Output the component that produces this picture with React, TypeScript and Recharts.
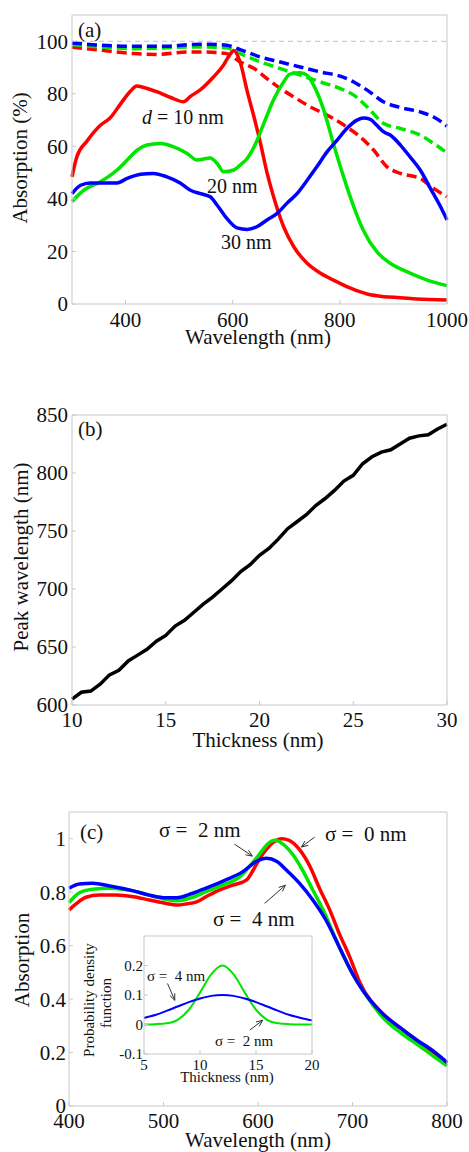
import { LineChart, Line, XAxis, YAxis, ReferenceLine } from 'recharts';

const SERIF = '"Liberation Serif", "Times New Roman", serif';
const RED = '#ff0000';
const GREEN = '#00e600';
const BLUE = '#0000ff';
const FRAME = '#c8c8c8';
const INK = '#111';

// (a) absorption spectra, [wavelength nm, absorption %]
const aRedSolid: [number, number][] = [
  [300, 48.4], [309, 56], [328, 62], [353, 68], [372, 71], [390, 76], [409, 81], [421, 83],
  [434, 82.4], [459, 80.7], [484, 78.6], [508, 77], [521, 79], [540, 81.6], [564, 86.4],
  [583, 91], [596, 95.3], [602, 96.5], [614, 92], [627, 81], [640, 71], [652, 61], [664, 50],
  [676, 41], [695, 29.4], [714, 21.8], [739, 15.5], [764, 11.7], [788, 9.1], [820, 6],
  [851, 3.8], [882, 2.8], [913, 2.4], [944, 1.9], [1000, 1.5],
];
const aGreenSolid: [number, number][] = [
  [300, 39], [322, 43.3], [353, 46.5], [384, 51], [403, 54.8], [421, 58.5], [440, 60.5],
  [465, 61.1], [490, 59.8], [515, 57.3], [533, 54.8], [558, 55.6], [571, 53.5], [583, 50.3],
  [602, 51], [614, 52.9], [627, 55.4], [640, 59.8], [658, 68.7], [676, 77.6], [695, 84.5],
  [707, 87.5], [726, 88], [739, 87], [751, 83.3], [770, 73.8], [788, 61], [807, 48.4],
  [826, 37], [844, 28], [869, 19.9], [894, 15.5], [925, 12.3], [963, 9.1], [1000, 7],
];
const aBlueSolid: [number, number][] = [
  [300, 42], [316, 45.2], [334, 46.1], [353, 46.1], [384, 46.1], [403, 47.8], [428, 49.4],
  [452, 49.7], [477, 48.4], [502, 46.1], [521, 43.3], [540, 42], [558, 40.8], [571, 37.6],
  [589, 32.6], [608, 29], [627, 28.4], [645, 29.4], [664, 32], [683, 34.5], [701, 38.3],
  [720, 42], [739, 47.1], [757, 52.2], [776, 57.9], [795, 62.4], [813, 66.8], [832, 70],
  [844, 70.8], [857, 70.3], [869, 68], [882, 65.5], [894, 64.3], [913, 60.5], [931, 56],
  [950, 51], [969, 44], [988, 37], [1000, 32],
];
const aBlueDash: [number, number][] = [
  [300, 99.4], [353, 98.5], [415, 98.1], [477, 98.1], [515, 98.7], [552, 98.9], [589, 98.5],
  [614, 96.8], [652, 94], [689, 92.1], [726, 90.2], [764, 88.3], [801, 86.7], [826, 84.5],
  [851, 81.4], [882, 76.9], [913, 74.8], [950, 73.1], [975, 71.2], [1000, 67.7],
];
const aGreenDash: [number, number][] = [
  [300, 98.7], [353, 97.8], [415, 97.2], [477, 97.5], [515, 97.8], [552, 97.8], [589, 97.5],
  [614, 95.3], [652, 92.1], [689, 89.6], [726, 87.1], [764, 84.5], [801, 82], [826, 79.5],
  [851, 75], [882, 68.7], [913, 66.8], [950, 64.3], [975, 61.1], [1000, 57.5],
];
const aRedDash: [number, number][] = [
  [300, 97.8], [353, 96.6], [415, 95.3], [459, 95], [515, 95.9], [552, 95.9], [589, 95.3],
  [614, 92.1], [640, 89.6], [664, 85.8], [689, 82], [714, 78.8], [739, 75.7], [764, 73.1],
  [788, 70.6], [813, 67.4], [838, 63.6], [863, 58.6], [888, 52.2], [913, 49.7], [950, 47.8],
  [975, 44], [1000, 40.8],
];
const aXTicks = [400, 600, 800, 1000];
const aYTicks = [0, 20, 40, 60, 80, 100];

// (b) peak wavelength vs thickness
const bThickness = [
  10, 10.5, 11, 11.5, 12, 12.5, 13, 13.5, 14, 14.5, 15, 15.5, 16, 16.5, 17, 17.5, 18, 18.5, 19, 19.5,
  20, 20.5, 21, 21.5, 22, 22.5, 23, 23.5, 24, 24.5, 25, 25.5, 26, 26.5, 27, 27.5, 28, 28.5, 29, 29.5, 30,
];
const bPeak = [
  605, 611, 612, 618, 626, 630, 638, 643, 648, 655, 660, 668, 673, 680, 687, 693, 700, 707, 715, 721,
  729, 735, 743, 752, 758, 764, 772, 778, 785, 793, 798, 808, 814, 818, 820, 825, 830, 832, 833, 838, 842,
];
const bXTicks = [10, 15, 20, 25, 30];
const bYTicks = [600, 650, 700, 750, 800, 850];

// (c) averaged absorption, [wavelength nm, absorption]
const cSigma0: [number, number][] = [
  [400, 0.733], [408, 0.758], [418, 0.781], [432, 0.789], [450, 0.789], [468, 0.783], [485, 0.771],
  [503, 0.758], [514, 0.752], [524, 0.756], [535, 0.764], [545, 0.783], [559, 0.808], [574, 0.827],
  [588, 0.846], [595, 0.883], [602, 0.927], [609, 0.961], [616, 0.986], [625, 1.0], [633, 0.994],
  [644, 0.959], [655, 0.896], [665, 0.815], [676, 0.733], [686, 0.645], [697, 0.558], [708, 0.46],
  [732, 0.345], [750, 0.294], [768, 0.244], [785, 0.2], [800, 0.159],
];
const cSigma2: [number, number][] = [
  [400, 0.761], [411, 0.798], [425, 0.811], [443, 0.815], [468, 0.805], [485, 0.789], [503, 0.773],
  [514, 0.768], [531, 0.781], [545, 0.802], [563, 0.827], [581, 0.858], [591, 0.896], [602, 0.944],
  [609, 0.976], [618, 0.994], [626, 0.981], [637, 0.94], [648, 0.877], [658, 0.808], [669, 0.733],
  [679, 0.652], [690, 0.564], [700, 0.495], [711, 0.432], [732, 0.332], [750, 0.276], [768, 0.232],
  [785, 0.188], [800, 0.15],
];
const cSigma4: [number, number][] = [
  [400, 0.815], [411, 0.831], [425, 0.833], [443, 0.823], [468, 0.805], [485, 0.789], [503, 0.779],
  [514, 0.779], [531, 0.796], [545, 0.815], [566, 0.846], [584, 0.877], [598, 0.915], [609, 0.927],
  [620, 0.915], [630, 0.883], [644, 0.833], [658, 0.771], [672, 0.695], [686, 0.595], [700, 0.495],
  [711, 0.432], [732, 0.345], [750, 0.294], [768, 0.247], [785, 0.207], [800, 0.163],
];
const cXTicks = [400, 500, 600, 700, 800];
const cYTicks = [0, 0.2, 0.4, 0.6, 0.8, 1];

// inset: thickness distributions
const insetThickness = [5, 6, 7, 8, 9, 10, 11, 12, 13, 14, 15, 16, 17, 18, 19, 20];
const pdfSigma2 = [0, 0.001, 0.004, 0.016, 0.05, 0.108, 0.17, 0.2, 0.17, 0.108, 0.05, 0.016, 0.004, 0.001, 0, 0];
const pdfSigma4 = [0.022, 0.032, 0.046, 0.061, 0.076, 0.088, 0.097, 0.1, 0.097, 0.088, 0.076, 0.061, 0.046, 0.032, 0.022, 0.014];
const insetXTicks = [5, 10, 15, 20];
const insetYTicks = [-0.1, 0, 0.1, 0.2];

// annotation arrows, data coordinates [from, to]
const cArrows = [
  [[575, 0.98], [594, 0.935]],
  [[660, 1.006], [646, 0.969]],
  [[607, 0.758], [629, 0.826]],
];
const insetArrows = [
  [[7.1, 0.139], [7.75, 0.082]],
  [[14.45, -0.019], [15.6, 0.0145]],
];

const pairs = (arr: [number, number][]) => arr.map(([x, y]) => ({ x, y }));
const zipXY = (xs: number[], ys: number[]) => xs.map((x, i) => ({ x, y: ys[i] }));

const arrowShape = (props: any) => {
  const { x1, y1, x2, y2 } = props;
  const a = Math.atan2(y2 - y1, x2 - x1);
  const h = 7;
  const l1 = [x2 - h * Math.cos(a - 0.4), y2 - h * Math.sin(a - 0.4)];
  const l2 = [x2 - h * Math.cos(a + 0.4), y2 - h * Math.sin(a + 0.4)];
  return (
    <g stroke="#333" strokeWidth={1} fill="none">
      <line x1={x1} y1={y1} x2={x2} y2={y2} />
      <path d={`M${l1[0]},${l1[1]}L${x2},${y2}L${l2[0]},${l2[1]}`} />
    </g>
  );
};

// axes are 1px thick so they still render; margins are reduced by 1 to compensate
function frameAxes(
  xDomain: number[],
  xTicks: number[],
  yDomain: number[],
  yTicks: number[],
  fontSize: number,
  xMargin: number,
  yMargin: number,
) {
  const tick = { fill: INK, fontSize, fontFamily: SERIF };
  return [
    <XAxis key="xb" xAxisId="b" type="number" dataKey="x" domain={xDomain} ticks={xTicks} interval={0}
      height={1} stroke={FRAME} tickSize={-4} tickMargin={xMargin} tick={tick} />,
    <XAxis key="xt" xAxisId="t" orientation="top" type="number" domain={xDomain} ticks={xTicks} interval={0}
      height={1} stroke={FRAME} tickSize={-4} tick={false} />,
    <YAxis key="yl" yAxisId="l" type="number" dataKey="y" domain={yDomain} ticks={yTicks} interval={0}
      width={1} stroke={FRAME} tickSize={-4} tickMargin={yMargin} tick={tick} />,
    <YAxis key="yr" yAxisId="r" orientation="right" type="number" domain={yDomain} ticks={yTicks} interval={0}
      width={1} stroke={FRAME} tickSize={-4} tick={false} />,
  ];
}

const series = (data: any[], color: string, width: number, dashed = false, type: any = 'monotone') => (
  <Line
    xAxisId="b"
    yAxisId="l"
    data={data}
    dataKey="y"
    type={type}
    stroke={color}
    strokeWidth={width}
    strokeDasharray={dashed ? '10 5' : undefined}
    dot={false}
    activeDot={false}
    isAnimationActive={false}
  />
);

function Txt({ x, y, size, rot, anchor = 'middle', children }: any) {
  return (
    <text
      x={x}
      y={y}
      fontSize={size}
      fontFamily={SERIF}
      fill={INK}
      textAnchor={anchor}
      style={{ whiteSpace: 'pre' }}
      transform={rot ? `rotate(-90 ${x} ${y})` : undefined}
    >
      {children}
    </text>
  );
}

export default function App() {
  return (
    <div style={{ position: 'absolute', left: 0, top: 0, width: 469, height: 1152, background: '#fff', overflow: 'hidden' }}>
      <div style={{ position: 'absolute', left: 0, top: 0 }}>
        <LineChart width={469} height={340} margin={{ top: 14, right: 21, bottom: 35, left: 71 }}>
          {frameAxes([300, 1000], aXTicks, [0, 110], aYTicks, 21, 12, 8)}
          <ReferenceLine xAxisId="b" yAxisId="l" y={100} stroke="#c0c0c0" strokeDasharray="5 4" />
          {series(pairs(aRedDash), RED, 3.5, true)}
          {series(pairs(aGreenDash), GREEN, 3.5, true)}
          {series(pairs(aBlueDash), BLUE, 3.5, true)}
          {series(pairs(aRedSolid), RED, 3.5)}
          {series(pairs(aGreenSolid), GREEN, 3.5)}
          {series(pairs(aBlueSolid), BLUE, 3.5)}
        </LineChart>
      </div>

      <div style={{ position: 'absolute', left: 0, top: 380 }}>
        <LineChart width={469} height={360} margin={{ top: 34, right: 21, bottom: 34, left: 71 }}>
          {frameAxes([10, 30], bXTicks, [600, 850], bYTicks, 21, 11, 8)}
          {series(zipXY(bThickness, bPeak), '#000', 3.5, false, 'linear')}
        </LineChart>
      </div>

      <div style={{ position: 'absolute', left: 0, top: 780 }}>
        <LineChart width={469} height={372} margin={{ top: 31, right: 21, bottom: 45, left: 68 }}>
          {frameAxes([400, 800], cXTicks, [0, 1.1], cYTicks, 21, 11, 7)}
          {series(pairs(cSigma0), RED, 3.5)}
          {series(pairs(cSigma2), GREEN, 3.5)}
          {series(pairs(cSigma4), BLUE, 3.5)}
          {cArrows.map(([from, to], i) => (
            <ReferenceLine
              key={i}
              xAxisId="b"
              yAxisId="l"
              segment={[{ x: from[0], y: from[1] }, { x: to[0], y: to[1] }]}
              shape={arrowShape}
              ifOverflow="visible"
            />
          ))}
        </LineChart>
      </div>

      <div style={{ position: 'absolute', left: 100, top: 920 }}>
        <LineChart width={230} height={165} margin={{ top: 15, right: 17, bottom: 30, left: 43 }}>
          {frameAxes([5, 20], insetXTicks, [-0.1, 0.3], insetYTicks, 15, 9, 5)}
          {series(zipXY(insetThickness, pdfSigma2), GREEN, 2)}
          {series(zipXY(insetThickness, pdfSigma4), BLUE, 2)}
          {insetArrows.map(([from, to], i) => (
            <ReferenceLine
              key={i}
              xAxisId="b"
              yAxisId="l"
              segment={[{ x: from[0], y: from[1] }, { x: to[0], y: to[1] }]}
              shape={arrowShape}
              ifOverflow="visible"
            />
          ))}
        </LineChart>
      </div>

      <svg width={469} height={1152} style={{ position: 'absolute', left: 0, top: 0, pointerEvents: 'none' }}>
        <Txt x={78} y={37} size={21} anchor="start">(a)</Txt>
        <Txt x={27} y={158} size={21} rot>Absorption (%)</Txt>
        <Txt x={258} y={344} size={21}>Wavelength (nm)</Txt>
        <Txt x={142} y={124} size={20} anchor="start">
          <tspan fontStyle="italic">d</tspan> = 10 nm
        </Txt>
        <Txt x={207} y={193} size={20} anchor="start">20 nm</Txt>
        <Txt x={221} y={249} size={20} anchor="start">30 nm</Txt>

        <Txt x={78} y={436} size={21} anchor="start">(b)</Txt>
        <Txt x={28} y={557} size={21} rot>Peak wavelength (nm)</Txt>
        <Txt x={258} y={747} size={21}>Thickness (nm)</Txt>

        <Txt x={80} y={839} size={21} anchor="start">(c)</Txt>
        <Txt x={29} y={960} size={21} rot>Absorption</Txt>
        <Txt x={258} y={1147} size={21}>Wavelength (nm)</Txt>
        <Txt x={159} y={837} size={21} anchor="start">σ =  2 nm</Txt>
        <Txt x={325} y={841} size={21} anchor="start">σ =  0 nm</Txt>
        <Txt x={213} y={926} size={21} anchor="start">σ =  4 nm</Txt>

        <Txt x={94} y={1000} size={15} rot>Probability density</Txt>
        <Txt x={111} y={1003} size={15} rot>function</Txt>
        <Txt x={227} y={1082} size={15}>Thickness (nm)</Txt>
        <Txt x={147} y={981} size={15} anchor="start">σ =  4 nm</Txt>
        <Txt x={215} y={1046} size={15} anchor="start">σ =  2 nm</Txt>
      </svg>
    </div>
  );
}
